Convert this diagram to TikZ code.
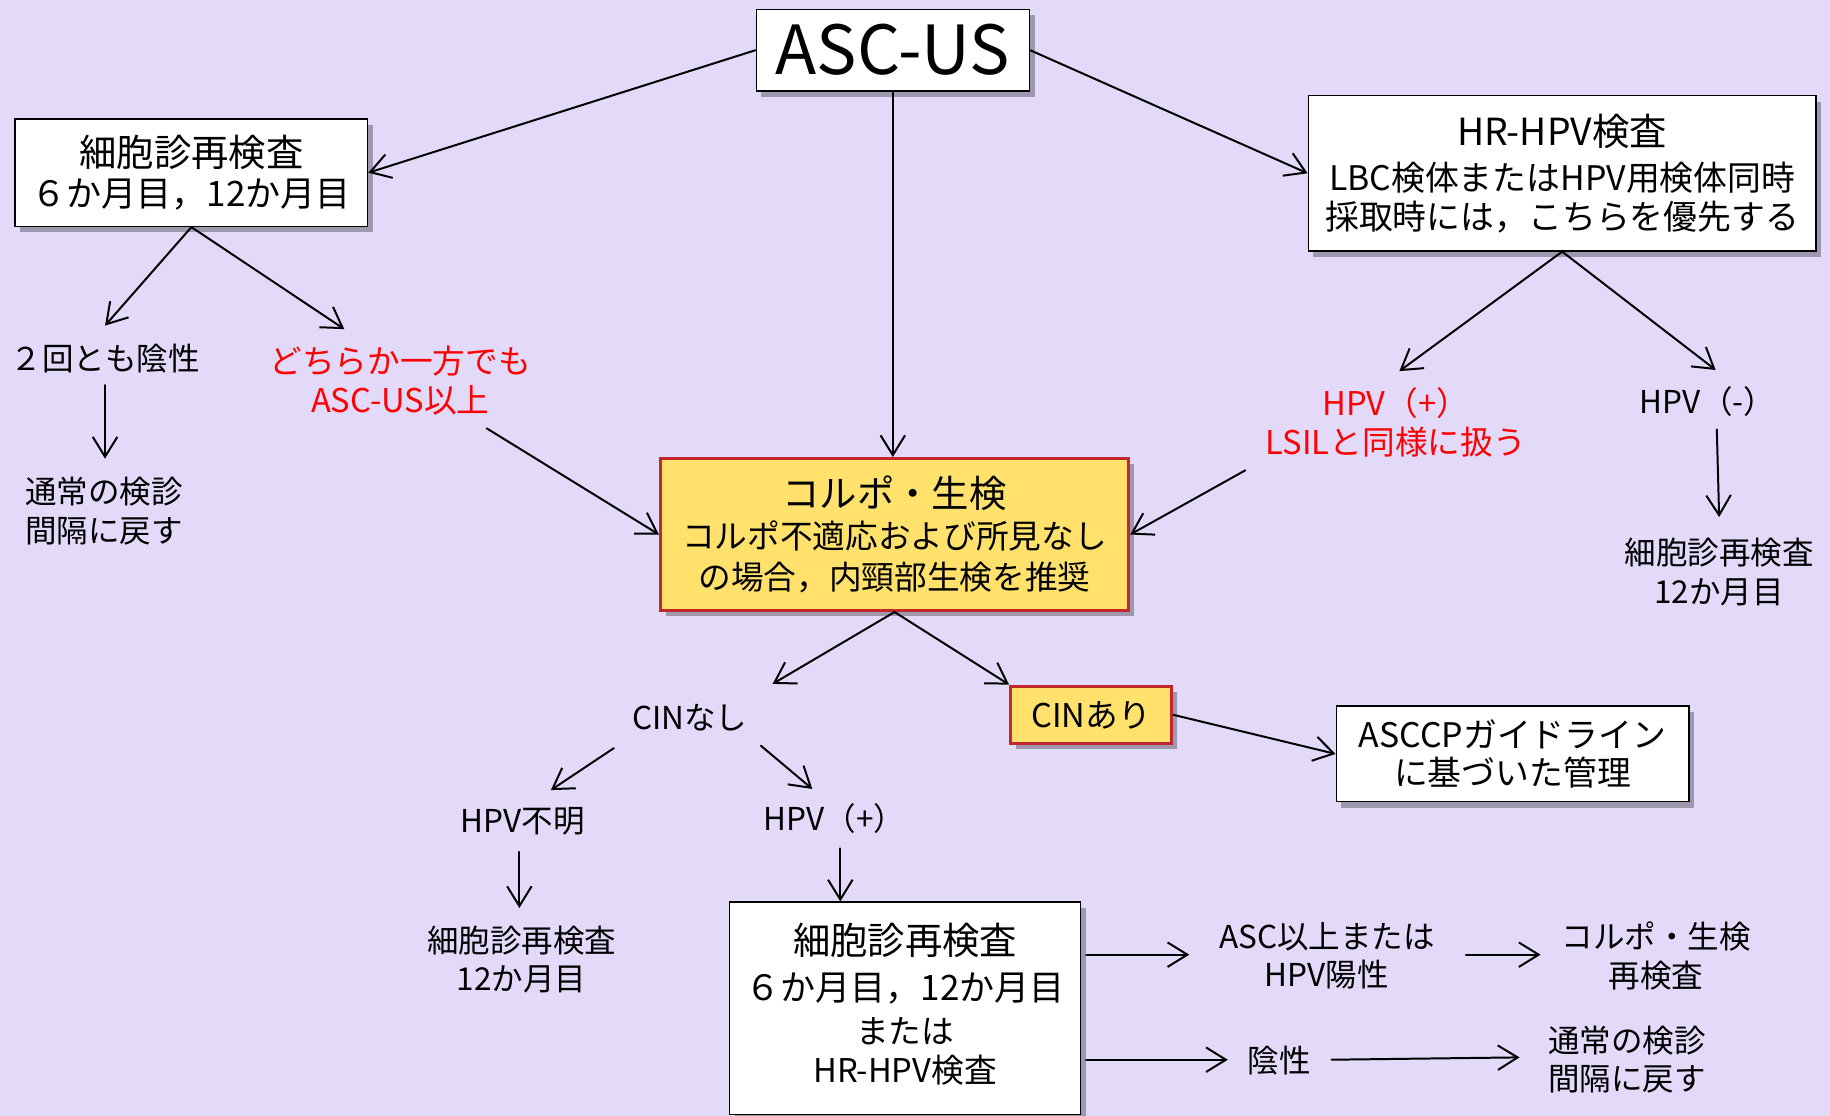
\documentclass[tikz,border=0pt]{standalone}
\usepackage{fontspec}
\setmainfont{Noto Sans CJK JP}
\usetikzlibrary{arrows.meta,shadows,calc}
\definecolor{bg}{HTML}{E3D9F8}
\definecolor{boxyellow}{HTML}{FFE16B}
\definecolor{boxred}{HTML}{C1272D}
\definecolor{txtred}{HTML}{FF0000}
\newcommand\szA{\fontsize{29pt}{33pt}\selectfont}
\newcommand\szB{\fontsize{16pt}{17pt}\selectfont}
\newcommand\szC{\fontsize{14pt}{16.5pt}\selectfont}
\newcommand\szCC{\fontsize{14.5pt}{16.5pt}\selectfont}
\newcommand\szD{\fontsize{13.5pt}{16.5pt}\selectfont}
\newcommand\szE{\fontsize{15pt}{17pt}\selectfont}
\begin{document}
\begin{tikzpicture}[x=0.5pt,y=-0.5pt,
  shad/.style={drop shadow={shadow xshift=2.2pt,shadow yshift=-2.5pt,fill=black,opacity=0.3}},
  wbox/.style={draw=black,line width=0.6pt,fill=white,inner sep=1pt,align=center,shad},
  ybox/.style={draw=boxred,line width=1.4pt,fill=boxyellow,inner sep=1pt,align=center,shad},
  lbl/.style={inner sep=0pt,align=center,font=\szD},
  rlbl/.style={lbl,font=\szC,text=txtred},
  arr/.style={-{Straight Barb[length=8.5pt,width=10.5pt]},line width=0.85pt,line cap=round,line join=round}
]
\fill[bg] (0,0) rectangle (1568,956);
\useasboundingbox (0,0) rectangle (1568,956);

% boxes
\node[wbox,minimum width=117pt,minimum height=35pt,font=\szA] (asc) at (765,43) {ASC-US};
\node[wbox,minimum width=151pt,minimum height=46pt,font=\szB] (cyto1) at (164,148)
  {細胞診再検査\\{\szE ６か月目，12か月目}};
\node[wbox,minimum width=217.5pt,minimum height=66.5pt,font=\szCC] (hrhpv) at (1338.5,148.5)
  {{\szB HR-HPV検査}\\[3pt]LBC検体またはHPV用検体同時\\採取時には，こちらを優先する};
\node[ybox,minimum width=200.5pt,minimum height=65pt,font=\szC] (colpo) at (766.5,458)
  {{\szB コルポ・生検}\\[1pt]コルポ不適応および所見なし\\[1pt]の場合，内頸部生検を推奨};
\node[ybox,minimum width=69pt,minimum height=24.5pt,font=\szC] (cinari) at (935,612.5) {CINあり};
\node[wbox,minimum width=151pt,minimum height=41pt,font=\szCC] (asccp) at (1296,646)
  {ASCCPガイドライン\\に基づいた管理};
\node[wbox,minimum width=150.5pt,minimum height=91pt,font=\szC] (cyto2) at (775.5,864)
  {\raisebox{2.5pt}{\begin{tabular}{@{}c@{}}{\szB 細胞診再検査}\\[3pt]{\szE ６か月目，12か月目}\\[2pt]または\\HR-HPV検査\end{tabular}}};

% labels
\node[lbl] (neg2) at (90,307) {２回とも陰性};
\node[rlbl] (either) at (343,326) {どちらか一方でも\\ASC-US以上};
\node[lbl] (normal1) at (89,438) {通常の検診\\間隔に戻す};
\node[rlbl] (hpvpos) at (1196,362) {HPV（+）\\LSILと同様に扱う};
\node[lbl] (hpvneg) at (1463,344) {HPV（-）};
\node[lbl] (cyto3) at (1473,490) {細胞診再検査\\12か月目};
\node[lbl] (cinnashi) at (591,615) {CINなし};
\node[lbl] (hpvunk) at (448,704) {HPV不明};
\node[lbl] (hpvpos2) at (715,701) {HPV（+）};
\node[lbl] (cyto4) at (447,822) {細胞診再検査\\12か月目};
\node[lbl] (ascup) at (1137,819) {ASC以上または\\HPV陽性};
\node[lbl] (colpo2) at (1419,819) {コルポ・生検\\再検査};
\node[lbl] (neg) at (1096,909) {陰性};
\node[lbl,align=left] (normal2) at (1394,908) {通常の検診\\間隔に戻す};

% connectors
\draw[arr] (asc.west) -- (cyto1.east);
\draw[arr] (asc.south) -- (asc.south |- colpo.north);
\draw[arr] (asc.east) -- (hrhpv.west);
\draw[arr] (cyto1.south) -- ($(neg2.center)+(0,-28)$);
\draw[arr] (cyto1.south) -- ($(either.center)+(-48,-44)$);
\draw[arr] ($(neg2.center)+(0,23)$) -- ($(normal1.center)+(1,-45)$);
\draw[arr] ($(either.center)+(74,41)$) -- (colpo.west);
\draw[arr] (hrhpv.south) -- ($(hpvpos.center)+(3,-44)$);
\draw[arr] (hrhpv.south) -- ($(hpvneg.center)+(7,-27)$);
\draw[arr] ($(hpvpos.center)+(-129,41)$) -- (colpo.east);
\draw[arr] ($(hpvneg.center)+(8,24)$) -- ($(cyto3.center)+(0,-47)$);
\draw[arr] (colpo.south) -- ($(cinnashi.center)+(71,-29)$);
\draw[arr] (colpo.south) -- (cinari.north west);
\draw[arr] (cinari.east) -- (asccp.west);
\draw[arr] ($(cinnashi.center)+(-65,26)$) -- ($(hpvunk.center)+(24,-27)$);
\draw[arr] ($(cinnashi.center)+(61,24)$) -- ($(hpvpos2.center)+(-19,-25)$);
\draw[arr] ($(hpvunk.center)+(-3,26)$) -- ($(cyto4.center)+(-2,-44)$);
\draw[arr] ($(hpvpos2.center)+(5,26)$) -- ($(hpvpos2.center |- cyto2.north)+(5,0)$);
\draw[arr] ($(cyto2.east)+(4,-46)$) -- ($(ascup.center)+(-118,-1)$);
\draw[arr] ($(ascup.center)+(119,-1)$) -- ($(colpo2.center)+(-99,-1)$);
\draw[arr] ($(cyto2.east)+(4,44)$) -- ($(neg.center)+(-44,-1)$);
\draw[arr] ($(neg.center)+(45,-1)$) -- ($(normal2.center)+(-92,-2)$);
\end{tikzpicture}
\end{document}
